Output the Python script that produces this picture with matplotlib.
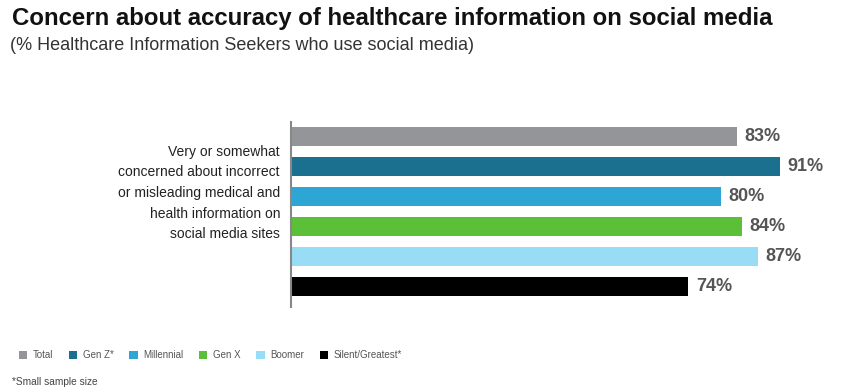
import matplotlib.pyplot as plt
from matplotlib.patches import Patch

plt.rcParams['font.family'] = ['Liberation Sans', 'DejaVu Sans']

groups = ['Total', 'Gen Z*', 'Millennial', 'Gen X', 'Boomer', 'Silent/Greatest*']
values = [83, 91, 80, 84, 87, 74]
colors = ['#939598', '#1b6f8f', '#2ea6d5', '#5cbf38', '#98dcf5', '#000000']
question = ('Very or somewhat\nconcerned about incorrect\nor misleading medical and\n'
            'health information on\nsocial media sites')

fig = plt.figure(figsize=(8.43, 3.89), dpi=100)
ax = fig.add_axes([291 / 843, 1 - 307 / 389, 537 / 843, 185 / 389])

pos = list(range(len(values)))
ax.barh(pos, values, height=0.64, color=colors)
for p, v in zip(pos, values):
    ax.text(v + 1.4, p, '{}%'.format(v), va='center', ha='left',
            fontsize=13, fontweight='bold', color='#555555')

ax.set_xlim(0, 100)
ax.set_ylim(5.7, -0.5)
ax.set_xticks([])
ax.set_yticks([])
for s in ['top', 'right', 'bottom']:
    ax.spines[s].set_visible(False)
ax.spines['left'].set_color('#888888')
ax.spines['left'].set_linewidth(1.5)

fig.text(280 / 843, 1 - 193 / 389, question, ha='right', va='center',
         fontsize=10, color='#222222', linespacing=1.6)

fig.text(12 / 843, 1 - 18 / 389,
         'Concern about accuracy of healthcare information on social media',
         fontsize=17.3, fontweight='bold', color='#111111', va='center')
fig.text(10 / 843, 1 - 46 / 389,
         '(% Healthcare Information Seekers who use social media)',
         fontsize=13, color='#333333', va='center')

handles = [Patch(facecolor=c, edgecolor='none', label=g) for g, c in zip(groups, colors)]
fig.legend(handles=handles, ncol=6, loc='center left',
           bbox_to_anchor=(10 / 843, 1 - 355 / 389), frameon=False,
           fontsize=7, handlelength=0.85, handleheight=0.85,
           handletextpad=0.6, columnspacing=1.6, labelcolor='#555555')

fig.text(12 / 843, 1 - 382 / 389, '*Small sample size', fontsize=7.3,
         color='#444444', va='center')

fig.savefig('out.png', dpi=100)
